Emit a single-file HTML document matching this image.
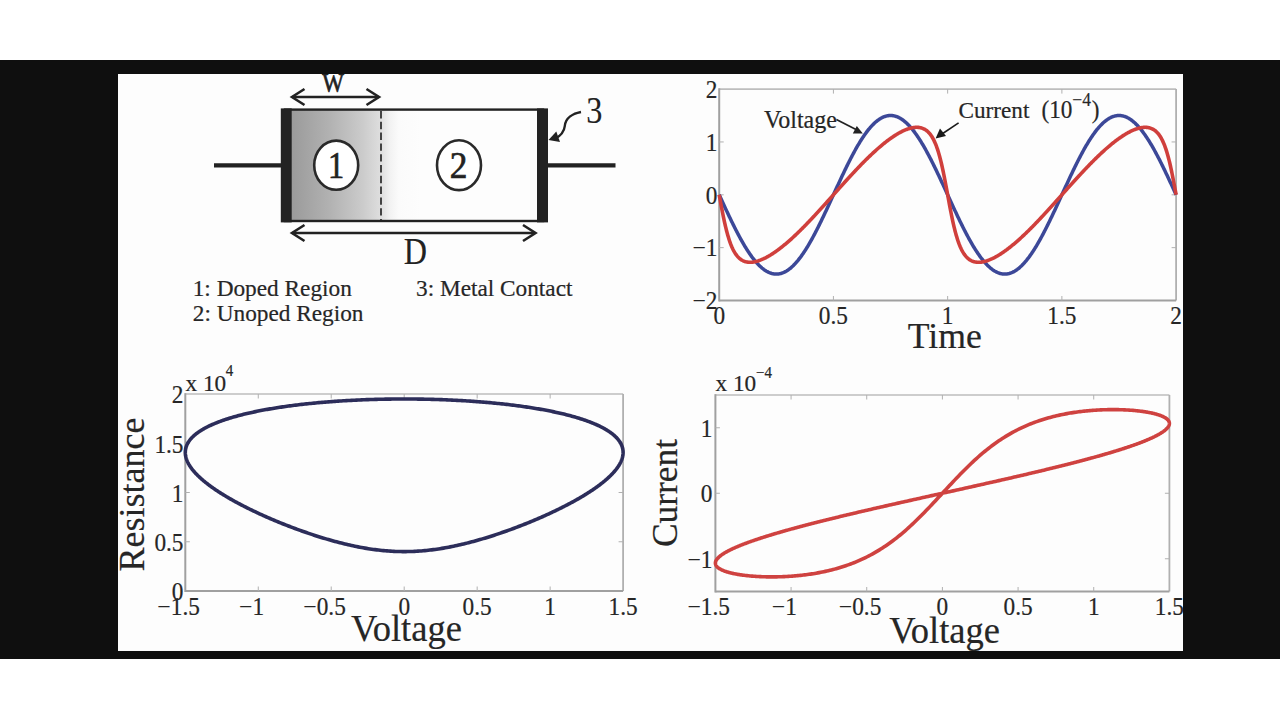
<!DOCTYPE html><html><head><meta charset="utf-8"><style>html,body{margin:0;padding:0;width:1280px;height:720px;overflow:hidden;background:#fff} text{stroke:#262626;stroke-width:0.2px}</style></head><body><svg width="1280" height="720" viewBox="0 0 1280 720" style="position:absolute;left:0;top:0">
<g font-family="'Liberation Serif', serif">
<rect x="0" y="0" width="1280" height="720" fill="#ffffff"/>
<rect x="0" y="60" width="1280" height="599" fill="#0f0f0f"/>
<rect x="118" y="74" width="1065" height="577" fill="#fdfdfd"/>
<defs><linearGradient id="dg" x1="0" x2="1" y1="0" y2="0"><stop offset="0" stop-color="#9a9a9a"/><stop offset="0.3" stop-color="#b2b2b2"/><stop offset="0.55" stop-color="#cbcbcb"/><stop offset="0.69" stop-color="#dedede"/><stop offset="0.76" stop-color="#f2f2f2"/><stop offset="0.83" stop-color="#fbfbfb"/><stop offset="1" stop-color="#fdfdfd"/></linearGradient><clipPath id="pc"><rect x="118" y="74" width="1065" height="577"/></clipPath></defs>
<g clip-path="url(#pc)">
<rect x="291" y="110" width="130" height="111" fill="url(#dg)"/>
<rect x="285" y="109.6" width="258" height="111.4" fill="none" stroke="#222222" stroke-width="2.4"/>
<rect x="280.8" y="108.4" width="10.9" height="114" fill="#222222"/>
<rect x="537" y="108.4" width="11" height="114" fill="#222222"/>
<line x1="214" y1="165.4" x2="281" y2="165.4" stroke="#222222" stroke-width="4.2"/>
<line x1="548" y1="165.3" x2="615.5" y2="165.3" stroke="#222222" stroke-width="4.2"/>
<line x1="381" y1="111" x2="381" y2="220" stroke="#333" stroke-width="1.8" stroke-dasharray="7.4,3.4"/>
<ellipse cx="336.2" cy="165.2" rx="22" ry="24.6" fill="#fff" stroke="#2a2a2a" stroke-width="2.6"/>
<ellipse cx="459.0" cy="165.2" rx="22" ry="24.9" fill="#fff" stroke="#2a2a2a" stroke-width="2.6"/>
<g transform="translate(336.00,177.50) scale(0.85,1)"><text x="0" y="0" font-size="38" text-anchor="middle" fill="#222222" style="stroke:#222222;stroke-width:0.7px">1</text></g>
<g transform="translate(458.60,177.80) scale(0.93,1)"><text x="0" y="0" font-size="38" text-anchor="middle" fill="#222222" style="stroke:#222222;stroke-width:0.7px">2</text></g>
<line x1="292.5" y1="97" x2="378.5" y2="97" stroke="#222222" stroke-width="2.5"/>
<polyline points="304.5,89 292.0,97 304.5,105" fill="none" stroke="#222222" stroke-width="2.6"/>
<polyline points="366.5,89 379.0,97 366.5,105" fill="none" stroke="#222222" stroke-width="2.6"/>
<line x1="292.5" y1="233" x2="535" y2="233" stroke="#222222" stroke-width="2.5"/>
<polyline points="304.5,225 292.0,233 304.5,241" fill="none" stroke="#222222" stroke-width="2.6"/>
<polyline points="523,225 535.5,233 523,241" fill="none" stroke="#222222" stroke-width="2.6"/>
<g transform="translate(333.00,91.50) scale(0.85,1)"><text x="0" y="0" font-size="27" text-anchor="middle" fill="#222222" style="stroke:#222222;stroke-width:0.7px">W</text></g>
<g transform="translate(415.30,264.00) scale(0.87,1)"><text x="0" y="0" font-size="37" text-anchor="middle" fill="#222222" style="stroke:#222222;stroke-width:0.15px">D</text></g>
<g transform="translate(594.20,122.80) scale(0.85,1)"><text x="0" y="0" font-size="38" text-anchor="middle" fill="#222222" style="stroke:#222222;stroke-width:0.1px">3</text></g>
<path d="M581,112 C573,113.5 565.5,118 564.8,126 C564.3,131 561,135.5 555,139" fill="none" stroke="#222222" stroke-width="2.4"/>
<polygon points="548.5,140 556.3,131.5 560,142" fill="#222222"/>
<g transform="translate(192.70,295.50) scale(1,1.02)"><text x="0" y="0" font-size="23.3" text-anchor="start" fill="#262626" >1: Doped Region</text></g>
<g transform="translate(192.80,321.20) scale(1,1.02)"><text x="0" y="0" font-size="23.3" text-anchor="start" fill="#262626" >2: Unoped Region</text></g>
<g transform="translate(416.00,295.50) scale(1,1.02)"><text x="0" y="0" font-size="23.3" text-anchor="start" fill="#262626" >3: Metal Contact</text></g>
<line x1="719.2" y1="89.1" x2="1176.1" y2="89.1" stroke="#bdbdbd" stroke-width="1.7"/>
<line x1="1176.1" y1="89.1" x2="1176.1" y2="300.5" stroke="#b0b0b0" stroke-width="1.8"/>
<line x1="719.2" y1="300.5" x2="1176.1" y2="300.5" stroke="#a0a0a0" stroke-width="2"/>
<line x1="719.2" y1="88.25" x2="719.2" y2="301.5" stroke="#a0a0a0" stroke-width="2"/>
<line x1="833.42" y1="300.5" x2="833.42" y2="296.0" stroke="#b0b0b0" stroke-width="1"/>
<line x1="833.42" y1="89.1" x2="833.42" y2="93.6" stroke="#b0b0b0" stroke-width="1"/>
<line x1="947.65" y1="300.5" x2="947.65" y2="296.0" stroke="#b0b0b0" stroke-width="1"/>
<line x1="947.65" y1="89.1" x2="947.65" y2="93.6" stroke="#b0b0b0" stroke-width="1"/>
<line x1="1061.88" y1="300.5" x2="1061.88" y2="296.0" stroke="#b0b0b0" stroke-width="1"/>
<line x1="1061.88" y1="89.1" x2="1061.88" y2="93.6" stroke="#b0b0b0" stroke-width="1"/>
<line x1="719.2" y1="247.65" x2="723.7" y2="247.65" stroke="#b0b0b0" stroke-width="1"/>
<line x1="1176.1" y1="247.65" x2="1171.6" y2="247.65" stroke="#b0b0b0" stroke-width="1"/>
<line x1="719.2" y1="194.80" x2="723.7" y2="194.80" stroke="#b0b0b0" stroke-width="1"/>
<line x1="1176.1" y1="194.80" x2="1171.6" y2="194.80" stroke="#b0b0b0" stroke-width="1"/>
<line x1="719.2" y1="141.95" x2="723.7" y2="141.95" stroke="#b0b0b0" stroke-width="1"/>
<line x1="1176.1" y1="141.95" x2="1171.6" y2="141.95" stroke="#b0b0b0" stroke-width="1"/>
<path d="M719.20,194.80 L719.77,196.05 L720.34,197.29 L720.91,198.53 L721.48,199.78 L722.06,201.02 L722.63,202.26 L723.20,203.50 L723.77,204.74 L724.34,205.97 L724.91,207.20 L725.48,208.43 L726.05,209.65 L726.62,210.88 L727.20,212.09 L727.77,213.31 L728.34,214.51 L728.91,215.72 L729.48,216.92 L730.05,218.11 L730.62,219.30 L731.19,220.48 L731.76,221.65 L732.34,222.82 L732.91,223.98 L733.48,225.14 L734.05,226.28 L734.62,227.42 L735.19,228.55 L735.76,229.68 L736.33,230.79 L736.90,231.90 L737.48,232.99 L738.05,234.08 L738.62,235.15 L739.19,236.22 L739.76,237.28 L740.33,238.32 L740.90,239.36 L741.47,240.38 L742.05,241.40 L742.62,242.40 L743.19,243.39 L743.76,244.37 L744.33,245.33 L744.90,246.28 L745.47,247.23 L746.04,248.15 L746.61,249.07 L747.19,249.97 L747.76,250.86 L748.33,251.73 L748.90,252.59 L749.47,253.43 L750.04,254.27 L750.61,255.08 L751.18,255.88 L751.75,256.67 L752.33,257.44 L752.90,258.20 L753.47,258.93 L754.04,259.66 L754.61,260.37 L755.18,261.06 L755.75,261.73 L756.32,262.39 L756.89,263.04 L757.47,263.66 L758.04,264.27 L758.61,264.86 L759.18,265.43 L759.75,265.99 L760.32,266.53 L760.89,267.05 L761.46,267.55 L762.03,268.04 L762.61,268.51 L763.18,268.96 L763.75,269.39 L764.32,269.80 L764.89,270.20 L765.46,270.57 L766.03,270.93 L766.60,271.27 L767.17,271.58 L767.75,271.88 L768.32,272.17 L768.89,272.43 L769.46,272.67 L770.03,272.89 L770.60,273.10 L771.17,273.28 L771.74,273.45 L772.31,273.60 L772.89,273.72 L773.46,273.83 L774.03,273.92 L774.60,273.99 L775.17,274.04 L775.74,274.07 L776.31,274.07 L776.88,274.07 L777.45,274.04 L778.03,273.99 L778.60,273.92 L779.17,273.83 L779.74,273.72 L780.31,273.60 L780.88,273.45 L781.45,273.28 L782.02,273.10 L782.59,272.89 L783.17,272.67 L783.74,272.43 L784.31,272.17 L784.88,271.88 L785.45,271.58 L786.02,271.27 L786.59,270.93 L787.16,270.57 L787.74,270.20 L788.31,269.80 L788.88,269.39 L789.45,268.96 L790.02,268.51 L790.59,268.04 L791.16,267.55 L791.73,267.05 L792.30,266.53 L792.88,265.99 L793.45,265.43 L794.02,264.86 L794.59,264.27 L795.16,263.66 L795.73,263.04 L796.30,262.39 L796.87,261.73 L797.44,261.06 L798.02,260.37 L798.59,259.66 L799.16,258.93 L799.73,258.20 L800.30,257.44 L800.87,256.67 L801.44,255.88 L802.01,255.08 L802.58,254.27 L803.16,253.43 L803.73,252.59 L804.30,251.73 L804.87,250.86 L805.44,249.97 L806.01,249.07 L806.58,248.15 L807.15,247.23 L807.72,246.28 L808.30,245.33 L808.87,244.37 L809.44,243.39 L810.01,242.40 L810.58,241.40 L811.15,240.38 L811.72,239.36 L812.29,238.32 L812.86,237.28 L813.44,236.22 L814.01,235.15 L814.58,234.08 L815.15,232.99 L815.72,231.90 L816.29,230.79 L816.86,229.68 L817.43,228.55 L818.00,227.42 L818.58,226.28 L819.15,225.14 L819.72,223.98 L820.29,222.82 L820.86,221.65 L821.43,220.48 L822.00,219.30 L822.57,218.11 L823.14,216.92 L823.72,215.72 L824.29,214.51 L824.86,213.31 L825.43,212.09 L826.00,210.88 L826.57,209.65 L827.14,208.43 L827.71,207.20 L828.28,205.97 L828.86,204.74 L829.43,203.50 L830.00,202.26 L830.57,201.02 L831.14,199.78 L831.71,198.53 L832.28,197.29 L832.85,196.05 L833.42,194.80 L834.00,193.55 L834.57,192.31 L835.14,191.07 L835.71,189.82 L836.28,188.58 L836.85,187.34 L837.42,186.10 L837.99,184.86 L838.57,183.63 L839.14,182.40 L839.71,181.17 L840.28,179.95 L840.85,178.72 L841.42,177.51 L841.99,176.29 L842.56,175.09 L843.13,173.88 L843.71,172.68 L844.28,171.49 L844.85,170.30 L845.42,169.12 L845.99,167.95 L846.56,166.78 L847.13,165.62 L847.70,164.46 L848.27,163.32 L848.85,162.18 L849.42,161.05 L849.99,159.92 L850.56,158.81 L851.13,157.70 L851.70,156.61 L852.27,155.52 L852.84,154.45 L853.41,153.38 L853.99,152.32 L854.56,151.28 L855.13,150.24 L855.70,149.22 L856.27,148.20 L856.84,147.20 L857.41,146.21 L857.98,145.23 L858.55,144.27 L859.13,143.32 L859.70,142.37 L860.27,141.45 L860.84,140.53 L861.41,139.63 L861.98,138.74 L862.55,137.87 L863.12,137.01 L863.69,136.17 L864.27,135.33 L864.84,134.52 L865.41,133.72 L865.98,132.93 L866.55,132.16 L867.12,131.40 L867.69,130.67 L868.26,129.94 L868.83,129.23 L869.41,128.54 L869.98,127.87 L870.55,127.21 L871.12,126.56 L871.69,125.94 L872.26,125.33 L872.83,124.74 L873.40,124.17 L873.97,123.61 L874.55,123.07 L875.12,122.55 L875.69,122.05 L876.26,121.56 L876.83,121.09 L877.40,120.64 L877.97,120.21 L878.54,119.80 L879.12,119.40 L879.69,119.03 L880.26,118.67 L880.83,118.33 L881.40,118.02 L881.97,117.72 L882.54,117.43 L883.11,117.17 L883.68,116.93 L884.26,116.71 L884.83,116.50 L885.40,116.32 L885.97,116.15 L886.54,116.00 L887.11,115.88 L887.68,115.77 L888.25,115.68 L888.82,115.61 L889.40,115.56 L889.97,115.53 L890.54,115.53 L891.11,115.53 L891.68,115.56 L892.25,115.61 L892.82,115.68 L893.39,115.77 L893.96,115.88 L894.54,116.00 L895.11,116.15 L895.68,116.32 L896.25,116.50 L896.82,116.71 L897.39,116.93 L897.96,117.17 L898.53,117.43 L899.10,117.72 L899.68,118.02 L900.25,118.33 L900.82,118.67 L901.39,119.03 L901.96,119.40 L902.53,119.80 L903.10,120.21 L903.67,120.64 L904.24,121.09 L904.82,121.56 L905.39,122.05 L905.96,122.55 L906.53,123.07 L907.10,123.61 L907.67,124.17 L908.24,124.74 L908.81,125.33 L909.38,125.94 L909.96,126.56 L910.53,127.21 L911.10,127.87 L911.67,128.54 L912.24,129.23 L912.81,129.94 L913.38,130.67 L913.95,131.40 L914.52,132.16 L915.10,132.93 L915.67,133.72 L916.24,134.52 L916.81,135.33 L917.38,136.17 L917.95,137.01 L918.52,137.87 L919.09,138.74 L919.66,139.63 L920.24,140.53 L920.81,141.45 L921.38,142.37 L921.95,143.32 L922.52,144.27 L923.09,145.23 L923.66,146.21 L924.23,147.20 L924.80,148.20 L925.38,149.22 L925.95,150.24 L926.52,151.28 L927.09,152.32 L927.66,153.38 L928.23,154.45 L928.80,155.52 L929.37,156.61 L929.95,157.70 L930.52,158.81 L931.09,159.92 L931.66,161.05 L932.23,162.18 L932.80,163.32 L933.37,164.46 L933.94,165.62 L934.51,166.78 L935.09,167.95 L935.66,169.12 L936.23,170.30 L936.80,171.49 L937.37,172.68 L937.94,173.88 L938.51,175.09 L939.08,176.29 L939.65,177.51 L940.23,178.72 L940.80,179.95 L941.37,181.17 L941.94,182.40 L942.51,183.63 L943.08,184.86 L943.65,186.10 L944.22,187.34 L944.79,188.58 L945.37,189.82 L945.94,191.07 L946.51,192.31 L947.08,193.55 L947.65,194.80 L948.22,196.05 L948.79,197.29 L949.36,198.53 L949.93,199.78 L950.51,201.02 L951.08,202.26 L951.65,203.50 L952.22,204.74 L952.79,205.97 L953.36,207.20 L953.93,208.43 L954.50,209.65 L955.07,210.88 L955.65,212.09 L956.22,213.31 L956.79,214.51 L957.36,215.72 L957.93,216.92 L958.50,218.11 L959.07,219.30 L959.64,220.48 L960.21,221.65 L960.79,222.82 L961.36,223.98 L961.93,225.14 L962.50,226.28 L963.07,227.42 L963.64,228.55 L964.21,229.68 L964.78,230.79 L965.35,231.90 L965.93,232.99 L966.50,234.08 L967.07,235.15 L967.64,236.22 L968.21,237.28 L968.78,238.32 L969.35,239.36 L969.92,240.38 L970.50,241.40 L971.07,242.40 L971.64,243.39 L972.21,244.37 L972.78,245.33 L973.35,246.28 L973.92,247.23 L974.49,248.15 L975.06,249.07 L975.64,249.97 L976.21,250.86 L976.78,251.73 L977.35,252.59 L977.92,253.43 L978.49,254.27 L979.06,255.08 L979.63,255.88 L980.20,256.67 L980.78,257.44 L981.35,258.20 L981.92,258.93 L982.49,259.66 L983.06,260.37 L983.63,261.06 L984.20,261.73 L984.77,262.39 L985.34,263.04 L985.92,263.66 L986.49,264.27 L987.06,264.86 L987.63,265.43 L988.20,265.99 L988.77,266.53 L989.34,267.05 L989.91,267.55 L990.48,268.04 L991.06,268.51 L991.63,268.96 L992.20,269.39 L992.77,269.80 L993.34,270.20 L993.91,270.57 L994.48,270.93 L995.05,271.27 L995.62,271.58 L996.20,271.88 L996.77,272.17 L997.34,272.43 L997.91,272.67 L998.48,272.89 L999.05,273.10 L999.62,273.28 L1000.19,273.45 L1000.76,273.60 L1001.34,273.72 L1001.91,273.83 L1002.48,273.92 L1003.05,273.99 L1003.62,274.04 L1004.19,274.07 L1004.76,274.07 L1005.33,274.07 L1005.90,274.04 L1006.48,273.99 L1007.05,273.92 L1007.62,273.83 L1008.19,273.72 L1008.76,273.60 L1009.33,273.45 L1009.90,273.28 L1010.47,273.10 L1011.04,272.89 L1011.62,272.67 L1012.19,272.43 L1012.76,272.17 L1013.33,271.88 L1013.90,271.58 L1014.47,271.27 L1015.04,270.93 L1015.61,270.57 L1016.18,270.20 L1016.76,269.80 L1017.33,269.39 L1017.90,268.96 L1018.47,268.51 L1019.04,268.04 L1019.61,267.55 L1020.18,267.05 L1020.75,266.53 L1021.33,265.99 L1021.90,265.43 L1022.47,264.86 L1023.04,264.27 L1023.61,263.66 L1024.18,263.04 L1024.75,262.39 L1025.32,261.73 L1025.89,261.06 L1026.47,260.37 L1027.04,259.66 L1027.61,258.93 L1028.18,258.20 L1028.75,257.44 L1029.32,256.67 L1029.89,255.88 L1030.46,255.08 L1031.03,254.27 L1031.61,253.43 L1032.18,252.59 L1032.75,251.73 L1033.32,250.86 L1033.89,249.97 L1034.46,249.07 L1035.03,248.15 L1035.60,247.23 L1036.17,246.28 L1036.75,245.33 L1037.32,244.37 L1037.89,243.39 L1038.46,242.40 L1039.03,241.40 L1039.60,240.38 L1040.17,239.36 L1040.74,238.32 L1041.31,237.28 L1041.89,236.22 L1042.46,235.15 L1043.03,234.08 L1043.60,232.99 L1044.17,231.90 L1044.74,230.79 L1045.31,229.68 L1045.88,228.55 L1046.45,227.42 L1047.03,226.28 L1047.60,225.14 L1048.17,223.98 L1048.74,222.82 L1049.31,221.65 L1049.88,220.48 L1050.45,219.30 L1051.02,218.11 L1051.59,216.92 L1052.17,215.72 L1052.74,214.51 L1053.31,213.31 L1053.88,212.09 L1054.45,210.88 L1055.02,209.65 L1055.59,208.43 L1056.16,207.20 L1056.73,205.97 L1057.31,204.74 L1057.88,203.50 L1058.45,202.26 L1059.02,201.02 L1059.59,199.78 L1060.16,198.53 L1060.73,197.29 L1061.30,196.05 L1061.88,194.80 L1062.45,193.55 L1063.02,192.31 L1063.59,191.07 L1064.16,189.82 L1064.73,188.58 L1065.30,187.34 L1065.87,186.10 L1066.44,184.86 L1067.02,183.63 L1067.59,182.40 L1068.16,181.17 L1068.73,179.95 L1069.30,178.72 L1069.87,177.51 L1070.44,176.29 L1071.01,175.09 L1071.58,173.88 L1072.16,172.68 L1072.73,171.49 L1073.30,170.30 L1073.87,169.12 L1074.44,167.95 L1075.01,166.78 L1075.58,165.62 L1076.15,164.46 L1076.72,163.32 L1077.30,162.18 L1077.87,161.05 L1078.44,159.92 L1079.01,158.81 L1079.58,157.70 L1080.15,156.61 L1080.72,155.52 L1081.29,154.45 L1081.86,153.38 L1082.44,152.32 L1083.01,151.28 L1083.58,150.24 L1084.15,149.22 L1084.72,148.20 L1085.29,147.20 L1085.86,146.21 L1086.43,145.23 L1087.00,144.27 L1087.58,143.32 L1088.15,142.37 L1088.72,141.45 L1089.29,140.53 L1089.86,139.63 L1090.43,138.74 L1091.00,137.87 L1091.57,137.01 L1092.14,136.17 L1092.72,135.33 L1093.29,134.52 L1093.86,133.72 L1094.43,132.93 L1095.00,132.16 L1095.57,131.40 L1096.14,130.67 L1096.71,129.94 L1097.28,129.23 L1097.86,128.54 L1098.43,127.87 L1099.00,127.21 L1099.57,126.56 L1100.14,125.94 L1100.71,125.33 L1101.28,124.74 L1101.85,124.17 L1102.42,123.61 L1103.00,123.07 L1103.57,122.55 L1104.14,122.05 L1104.71,121.56 L1105.28,121.09 L1105.85,120.64 L1106.42,120.21 L1106.99,119.80 L1107.57,119.40 L1108.14,119.03 L1108.71,118.67 L1109.28,118.33 L1109.85,118.02 L1110.42,117.72 L1110.99,117.43 L1111.56,117.17 L1112.13,116.93 L1112.71,116.71 L1113.28,116.50 L1113.85,116.32 L1114.42,116.15 L1114.99,116.00 L1115.56,115.88 L1116.13,115.77 L1116.70,115.68 L1117.27,115.61 L1117.85,115.56 L1118.42,115.53 L1118.99,115.53 L1119.56,115.53 L1120.13,115.56 L1120.70,115.61 L1121.27,115.68 L1121.84,115.77 L1122.41,115.88 L1122.99,116.00 L1123.56,116.15 L1124.13,116.32 L1124.70,116.50 L1125.27,116.71 L1125.84,116.93 L1126.41,117.17 L1126.98,117.43 L1127.55,117.72 L1128.13,118.02 L1128.70,118.33 L1129.27,118.67 L1129.84,119.03 L1130.41,119.40 L1130.98,119.80 L1131.55,120.21 L1132.12,120.64 L1132.69,121.09 L1133.27,121.56 L1133.84,122.05 L1134.41,122.55 L1134.98,123.07 L1135.55,123.61 L1136.12,124.17 L1136.69,124.74 L1137.26,125.33 L1137.83,125.94 L1138.41,126.56 L1138.98,127.21 L1139.55,127.87 L1140.12,128.54 L1140.69,129.23 L1141.26,129.94 L1141.83,130.67 L1142.40,131.40 L1142.97,132.16 L1143.55,132.93 L1144.12,133.72 L1144.69,134.52 L1145.26,135.33 L1145.83,136.17 L1146.40,137.01 L1146.97,137.87 L1147.54,138.74 L1148.11,139.63 L1148.69,140.53 L1149.26,141.45 L1149.83,142.37 L1150.40,143.32 L1150.97,144.27 L1151.54,145.23 L1152.11,146.21 L1152.68,147.20 L1153.25,148.20 L1153.83,149.22 L1154.40,150.24 L1154.97,151.28 L1155.54,152.32 L1156.11,153.38 L1156.68,154.45 L1157.25,155.52 L1157.82,156.61 L1158.40,157.70 L1158.97,158.81 L1159.54,159.92 L1160.11,161.05 L1160.68,162.18 L1161.25,163.32 L1161.82,164.46 L1162.39,165.62 L1162.96,166.78 L1163.54,167.95 L1164.11,169.12 L1164.68,170.30 L1165.25,171.49 L1165.82,172.68 L1166.39,173.88 L1166.96,175.09 L1167.53,176.29 L1168.10,177.51 L1168.68,178.72 L1169.25,179.95 L1169.82,181.17 L1170.39,182.40 L1170.96,183.63 L1171.53,184.86 L1172.10,186.10 L1172.67,187.34 L1173.24,188.58 L1173.82,189.82 L1174.39,191.07 L1174.96,192.31 L1175.53,193.55 L1176.10,194.80" fill="none" stroke="#3c4898" stroke-width="3.5"/>
<path d="M719.20,194.80 L719.77,197.91 L720.34,201.01 L720.91,204.08 L721.48,207.11 L722.06,210.08 L722.63,213.00 L723.20,215.84 L723.77,218.60 L724.34,221.26 L724.91,223.84 L725.48,226.31 L726.05,228.68 L726.62,230.94 L727.20,233.10 L727.77,235.16 L728.34,237.10 L728.91,238.95 L729.48,240.69 L730.05,242.34 L730.62,243.89 L731.19,245.34 L731.76,246.71 L732.34,247.99 L732.91,249.20 L733.48,250.32 L734.05,251.38 L734.62,252.36 L735.19,253.27 L735.76,254.13 L736.33,254.92 L736.90,255.66 L737.48,256.34 L738.05,256.97 L738.62,257.56 L739.19,258.10 L739.76,258.60 L740.33,259.05 L740.90,259.47 L741.47,259.86 L742.05,260.20 L742.62,260.52 L743.19,260.80 L743.76,261.06 L744.33,261.29 L744.90,261.49 L745.47,261.66 L746.04,261.81 L746.61,261.94 L747.19,262.05 L747.76,262.13 L748.33,262.20 L748.90,262.25 L749.47,262.28 L750.04,262.29 L750.61,262.28 L751.18,262.26 L751.75,262.22 L752.33,262.17 L752.90,262.10 L753.47,262.02 L754.04,261.93 L754.61,261.82 L755.18,261.70 L755.75,261.57 L756.32,261.43 L756.89,261.28 L757.47,261.11 L758.04,260.94 L758.61,260.76 L759.18,260.56 L759.75,260.36 L760.32,260.14 L760.89,259.92 L761.46,259.69 L762.03,259.45 L762.61,259.20 L763.18,258.94 L763.75,258.68 L764.32,258.40 L764.89,258.12 L765.46,257.84 L766.03,257.54 L766.60,257.24 L767.17,256.93 L767.75,256.61 L768.32,256.29 L768.89,255.96 L769.46,255.63 L770.03,255.28 L770.60,254.94 L771.17,254.58 L771.74,254.22 L772.31,253.86 L772.89,253.48 L773.46,253.11 L774.03,252.72 L774.60,252.34 L775.17,251.94 L775.74,251.54 L776.31,251.14 L776.88,250.73 L777.45,250.31 L778.03,249.90 L778.60,249.47 L779.17,249.04 L779.74,248.61 L780.31,248.17 L780.88,247.73 L781.45,247.28 L782.02,246.83 L782.59,246.37 L783.17,245.91 L783.74,245.45 L784.31,244.98 L784.88,244.51 L785.45,244.03 L786.02,243.55 L786.59,243.07 L787.16,242.58 L787.74,242.08 L788.31,241.59 L788.88,241.09 L789.45,240.59 L790.02,240.08 L790.59,239.57 L791.16,239.05 L791.73,238.54 L792.30,238.02 L792.88,237.49 L793.45,236.97 L794.02,236.43 L794.59,235.90 L795.16,235.36 L795.73,234.82 L796.30,234.28 L796.87,233.74 L797.44,233.19 L798.02,232.64 L798.59,232.08 L799.16,231.52 L799.73,230.97 L800.30,230.40 L800.87,229.84 L801.44,229.27 L802.01,228.70 L802.58,228.13 L803.16,227.55 L803.73,226.98 L804.30,226.40 L804.87,225.81 L805.44,225.23 L806.01,224.64 L806.58,224.05 L807.15,223.46 L807.72,222.87 L808.30,222.28 L808.87,221.68 L809.44,221.08 L810.01,220.48 L810.58,219.88 L811.15,219.27 L811.72,218.67 L812.29,218.06 L812.86,217.45 L813.44,216.84 L814.01,216.23 L814.58,215.61 L815.15,215.00 L815.72,214.38 L816.29,213.76 L816.86,213.14 L817.43,212.52 L818.00,211.90 L818.58,211.28 L819.15,210.65 L819.72,210.03 L820.29,209.40 L820.86,208.77 L821.43,208.15 L822.00,207.52 L822.57,206.89 L823.14,206.26 L823.72,205.62 L824.29,204.99 L824.86,204.36 L825.43,203.72 L826.00,203.09 L826.57,202.45 L827.14,201.82 L827.71,201.18 L828.28,200.54 L828.86,199.91 L829.43,199.27 L830.00,198.63 L830.57,197.99 L831.14,197.35 L831.71,196.72 L832.28,196.08 L832.85,195.44 L833.42,194.80 L834.00,194.16 L834.57,193.52 L835.14,192.88 L835.71,192.25 L836.28,191.61 L836.85,190.97 L837.42,190.33 L837.99,189.69 L838.57,189.06 L839.14,188.42 L839.71,187.78 L840.28,187.15 L840.85,186.51 L841.42,185.88 L841.99,185.24 L842.56,184.61 L843.13,183.98 L843.71,183.34 L844.28,182.71 L844.85,182.08 L845.42,181.45 L845.99,180.83 L846.56,180.20 L847.13,179.57 L847.70,178.95 L848.27,178.32 L848.85,177.70 L849.42,177.08 L849.99,176.46 L850.56,175.84 L851.13,175.22 L851.70,174.60 L852.27,173.99 L852.84,173.37 L853.41,172.76 L853.99,172.15 L854.56,171.54 L855.13,170.93 L855.70,170.33 L856.27,169.72 L856.84,169.12 L857.41,168.52 L857.98,167.92 L858.55,167.32 L859.13,166.73 L859.70,166.14 L860.27,165.55 L860.84,164.96 L861.41,164.37 L861.98,163.79 L862.55,163.20 L863.12,162.62 L863.69,162.05 L864.27,161.47 L864.84,160.90 L865.41,160.33 L865.98,159.76 L866.55,159.20 L867.12,158.63 L867.69,158.08 L868.26,157.52 L868.83,156.96 L869.41,156.41 L869.98,155.86 L870.55,155.32 L871.12,154.78 L871.69,154.24 L872.26,153.70 L872.83,153.17 L873.40,152.63 L873.97,152.11 L874.55,151.58 L875.12,151.06 L875.69,150.55 L876.26,150.03 L876.83,149.52 L877.40,149.01 L877.97,148.51 L878.54,148.01 L879.12,147.52 L879.69,147.02 L880.26,146.53 L880.83,146.05 L881.40,145.57 L881.97,145.09 L882.54,144.62 L883.11,144.15 L883.68,143.69 L884.26,143.23 L884.83,142.77 L885.40,142.32 L885.97,141.87 L886.54,141.43 L887.11,140.99 L887.68,140.56 L888.25,140.13 L888.82,139.70 L889.40,139.29 L889.97,138.87 L890.54,138.46 L891.11,138.06 L891.68,137.66 L892.25,137.26 L892.82,136.88 L893.39,136.49 L893.96,136.12 L894.54,135.74 L895.11,135.38 L895.68,135.02 L896.25,134.66 L896.82,134.32 L897.39,133.97 L897.96,133.64 L898.53,133.31 L899.10,132.99 L899.68,132.67 L900.25,132.36 L900.82,132.06 L901.39,131.76 L901.96,131.48 L902.53,131.20 L903.10,130.92 L903.67,130.66 L904.24,130.40 L904.82,130.15 L905.39,129.91 L905.96,129.68 L906.53,129.46 L907.10,129.24 L907.67,129.04 L908.24,128.84 L908.81,128.66 L909.38,128.49 L909.96,128.32 L910.53,128.17 L911.10,128.03 L911.67,127.90 L912.24,127.78 L912.81,127.67 L913.38,127.58 L913.95,127.50 L914.52,127.43 L915.10,127.38 L915.67,127.34 L916.24,127.32 L916.81,127.31 L917.38,127.32 L917.95,127.35 L918.52,127.40 L919.09,127.47 L919.66,127.55 L920.24,127.66 L920.81,127.79 L921.38,127.94 L921.95,128.11 L922.52,128.31 L923.09,128.54 L923.66,128.80 L924.23,129.08 L924.80,129.40 L925.38,129.74 L925.95,130.13 L926.52,130.55 L927.09,131.00 L927.66,131.50 L928.23,132.04 L928.80,132.63 L929.37,133.26 L929.95,133.94 L930.52,134.68 L931.09,135.47 L931.66,136.33 L932.23,137.24 L932.80,138.22 L933.37,139.28 L933.94,140.40 L934.51,141.61 L935.09,142.89 L935.66,144.26 L936.23,145.71 L936.80,147.26 L937.37,148.91 L937.94,150.65 L938.51,152.50 L939.08,154.44 L939.65,156.50 L940.23,158.66 L940.80,160.92 L941.37,163.29 L941.94,165.76 L942.51,168.34 L943.08,171.00 L943.65,173.76 L944.22,176.60 L944.79,179.52 L945.37,182.49 L945.94,185.52 L946.51,188.59 L947.08,191.69 L947.65,194.80 L948.22,197.91 L948.79,201.01 L949.36,204.08 L949.93,207.11 L950.51,210.08 L951.08,213.00 L951.65,215.84 L952.22,218.60 L952.79,221.26 L953.36,223.84 L953.93,226.31 L954.50,228.68 L955.07,230.94 L955.65,233.10 L956.22,235.16 L956.79,237.10 L957.36,238.95 L957.93,240.69 L958.50,242.34 L959.07,243.89 L959.64,245.34 L960.21,246.71 L960.79,247.99 L961.36,249.20 L961.93,250.32 L962.50,251.38 L963.07,252.36 L963.64,253.27 L964.21,254.13 L964.78,254.92 L965.35,255.66 L965.93,256.34 L966.50,256.97 L967.07,257.56 L967.64,258.10 L968.21,258.60 L968.78,259.05 L969.35,259.47 L969.92,259.86 L970.50,260.20 L971.07,260.52 L971.64,260.80 L972.21,261.06 L972.78,261.29 L973.35,261.49 L973.92,261.66 L974.49,261.81 L975.06,261.94 L975.64,262.05 L976.21,262.13 L976.78,262.20 L977.35,262.25 L977.92,262.28 L978.49,262.29 L979.06,262.28 L979.63,262.26 L980.20,262.22 L980.78,262.17 L981.35,262.10 L981.92,262.02 L982.49,261.93 L983.06,261.82 L983.63,261.70 L984.20,261.57 L984.77,261.43 L985.34,261.28 L985.92,261.11 L986.49,260.94 L987.06,260.76 L987.63,260.56 L988.20,260.36 L988.77,260.14 L989.34,259.92 L989.91,259.69 L990.48,259.45 L991.06,259.20 L991.63,258.94 L992.20,258.68 L992.77,258.40 L993.34,258.12 L993.91,257.84 L994.48,257.54 L995.05,257.24 L995.62,256.93 L996.20,256.61 L996.77,256.29 L997.34,255.96 L997.91,255.63 L998.48,255.28 L999.05,254.94 L999.62,254.58 L1000.19,254.22 L1000.76,253.86 L1001.34,253.48 L1001.91,253.11 L1002.48,252.72 L1003.05,252.34 L1003.62,251.94 L1004.19,251.54 L1004.76,251.14 L1005.33,250.73 L1005.90,250.31 L1006.48,249.90 L1007.05,249.47 L1007.62,249.04 L1008.19,248.61 L1008.76,248.17 L1009.33,247.73 L1009.90,247.28 L1010.47,246.83 L1011.04,246.37 L1011.62,245.91 L1012.19,245.45 L1012.76,244.98 L1013.33,244.51 L1013.90,244.03 L1014.47,243.55 L1015.04,243.07 L1015.61,242.58 L1016.18,242.08 L1016.76,241.59 L1017.33,241.09 L1017.90,240.59 L1018.47,240.08 L1019.04,239.57 L1019.61,239.05 L1020.18,238.54 L1020.75,238.02 L1021.33,237.49 L1021.90,236.97 L1022.47,236.43 L1023.04,235.90 L1023.61,235.36 L1024.18,234.82 L1024.75,234.28 L1025.32,233.74 L1025.89,233.19 L1026.47,232.64 L1027.04,232.08 L1027.61,231.52 L1028.18,230.97 L1028.75,230.40 L1029.32,229.84 L1029.89,229.27 L1030.46,228.70 L1031.03,228.13 L1031.61,227.55 L1032.18,226.98 L1032.75,226.40 L1033.32,225.81 L1033.89,225.23 L1034.46,224.64 L1035.03,224.05 L1035.60,223.46 L1036.17,222.87 L1036.75,222.28 L1037.32,221.68 L1037.89,221.08 L1038.46,220.48 L1039.03,219.88 L1039.60,219.27 L1040.17,218.67 L1040.74,218.06 L1041.31,217.45 L1041.89,216.84 L1042.46,216.23 L1043.03,215.61 L1043.60,215.00 L1044.17,214.38 L1044.74,213.76 L1045.31,213.14 L1045.88,212.52 L1046.45,211.90 L1047.03,211.28 L1047.60,210.65 L1048.17,210.03 L1048.74,209.40 L1049.31,208.77 L1049.88,208.15 L1050.45,207.52 L1051.02,206.89 L1051.59,206.26 L1052.17,205.62 L1052.74,204.99 L1053.31,204.36 L1053.88,203.72 L1054.45,203.09 L1055.02,202.45 L1055.59,201.82 L1056.16,201.18 L1056.73,200.54 L1057.31,199.91 L1057.88,199.27 L1058.45,198.63 L1059.02,197.99 L1059.59,197.35 L1060.16,196.72 L1060.73,196.08 L1061.30,195.44 L1061.88,194.80 L1062.45,194.16 L1063.02,193.52 L1063.59,192.88 L1064.16,192.25 L1064.73,191.61 L1065.30,190.97 L1065.87,190.33 L1066.44,189.69 L1067.02,189.06 L1067.59,188.42 L1068.16,187.78 L1068.73,187.15 L1069.30,186.51 L1069.87,185.88 L1070.44,185.24 L1071.01,184.61 L1071.58,183.98 L1072.16,183.34 L1072.73,182.71 L1073.30,182.08 L1073.87,181.45 L1074.44,180.83 L1075.01,180.20 L1075.58,179.57 L1076.15,178.95 L1076.72,178.32 L1077.30,177.70 L1077.87,177.08 L1078.44,176.46 L1079.01,175.84 L1079.58,175.22 L1080.15,174.60 L1080.72,173.99 L1081.29,173.37 L1081.86,172.76 L1082.44,172.15 L1083.01,171.54 L1083.58,170.93 L1084.15,170.33 L1084.72,169.72 L1085.29,169.12 L1085.86,168.52 L1086.43,167.92 L1087.00,167.32 L1087.58,166.73 L1088.15,166.14 L1088.72,165.55 L1089.29,164.96 L1089.86,164.37 L1090.43,163.79 L1091.00,163.20 L1091.57,162.62 L1092.14,162.05 L1092.72,161.47 L1093.29,160.90 L1093.86,160.33 L1094.43,159.76 L1095.00,159.20 L1095.57,158.63 L1096.14,158.08 L1096.71,157.52 L1097.28,156.96 L1097.86,156.41 L1098.43,155.86 L1099.00,155.32 L1099.57,154.78 L1100.14,154.24 L1100.71,153.70 L1101.28,153.17 L1101.85,152.63 L1102.42,152.11 L1103.00,151.58 L1103.57,151.06 L1104.14,150.55 L1104.71,150.03 L1105.28,149.52 L1105.85,149.01 L1106.42,148.51 L1106.99,148.01 L1107.57,147.52 L1108.14,147.02 L1108.71,146.53 L1109.28,146.05 L1109.85,145.57 L1110.42,145.09 L1110.99,144.62 L1111.56,144.15 L1112.13,143.69 L1112.71,143.23 L1113.28,142.77 L1113.85,142.32 L1114.42,141.87 L1114.99,141.43 L1115.56,140.99 L1116.13,140.56 L1116.70,140.13 L1117.27,139.70 L1117.85,139.29 L1118.42,138.87 L1118.99,138.46 L1119.56,138.06 L1120.13,137.66 L1120.70,137.26 L1121.27,136.88 L1121.84,136.49 L1122.41,136.12 L1122.99,135.74 L1123.56,135.38 L1124.13,135.02 L1124.70,134.66 L1125.27,134.32 L1125.84,133.97 L1126.41,133.64 L1126.98,133.31 L1127.55,132.99 L1128.13,132.67 L1128.70,132.36 L1129.27,132.06 L1129.84,131.76 L1130.41,131.48 L1130.98,131.20 L1131.55,130.92 L1132.12,130.66 L1132.69,130.40 L1133.27,130.15 L1133.84,129.91 L1134.41,129.68 L1134.98,129.46 L1135.55,129.24 L1136.12,129.04 L1136.69,128.84 L1137.26,128.66 L1137.83,128.49 L1138.41,128.32 L1138.98,128.17 L1139.55,128.03 L1140.12,127.90 L1140.69,127.78 L1141.26,127.67 L1141.83,127.58 L1142.40,127.50 L1142.97,127.43 L1143.55,127.38 L1144.12,127.34 L1144.69,127.32 L1145.26,127.31 L1145.83,127.32 L1146.40,127.35 L1146.97,127.40 L1147.54,127.47 L1148.11,127.55 L1148.69,127.66 L1149.26,127.79 L1149.83,127.94 L1150.40,128.11 L1150.97,128.31 L1151.54,128.54 L1152.11,128.80 L1152.68,129.08 L1153.25,129.40 L1153.83,129.74 L1154.40,130.13 L1154.97,130.55 L1155.54,131.00 L1156.11,131.50 L1156.68,132.04 L1157.25,132.63 L1157.82,133.26 L1158.40,133.94 L1158.97,134.68 L1159.54,135.47 L1160.11,136.33 L1160.68,137.24 L1161.25,138.22 L1161.82,139.28 L1162.39,140.40 L1162.96,141.61 L1163.54,142.89 L1164.11,144.26 L1164.68,145.71 L1165.25,147.26 L1165.82,148.91 L1166.39,150.65 L1166.96,152.50 L1167.53,154.44 L1168.10,156.50 L1168.68,158.66 L1169.25,160.92 L1169.82,163.29 L1170.39,165.76 L1170.96,168.34 L1171.53,171.00 L1172.10,173.76 L1172.67,176.60 L1173.24,179.52 L1173.82,182.49 L1174.39,185.52 L1174.96,188.59 L1175.53,191.69 L1176.10,194.80" fill="none" stroke="#d03f3c" stroke-width="3.6"/>
<g transform="translate(717.50,97.80) scale(1,1.055)"><text x="0" y="0" font-size="23.3" text-anchor="end" fill="#262626" >2</text></g>
<g transform="translate(717.50,150.65) scale(1,1.055)"><text x="0" y="0" font-size="23.3" text-anchor="end" fill="#262626" >1</text></g>
<g transform="translate(717.50,203.50) scale(1,1.055)"><text x="0" y="0" font-size="23.3" text-anchor="end" fill="#262626" >0</text></g>
<g transform="translate(717.50,256.35) scale(1,1.055)"><text x="0" y="0" font-size="23.3" text-anchor="end" fill="#262626" >−1</text></g>
<g transform="translate(717.50,309.20) scale(1,1.055)"><text x="0" y="0" font-size="23.3" text-anchor="end" fill="#262626" >−2</text></g>
<g transform="translate(719.20,323.50) scale(1,1.055)"><text x="0" y="0" font-size="23.3" text-anchor="middle" fill="#262626" >0</text></g>
<g transform="translate(833.42,323.50) scale(1,1.055)"><text x="0" y="0" font-size="23.3" text-anchor="middle" fill="#262626" >0.5</text></g>
<g transform="translate(947.65,323.50) scale(1,1.055)"><text x="0" y="0" font-size="23.3" text-anchor="middle" fill="#262626" >1</text></g>
<g transform="translate(1061.88,323.50) scale(1,1.055)"><text x="0" y="0" font-size="23.3" text-anchor="middle" fill="#262626" >1.5</text></g>
<g transform="translate(1176.10,323.50) scale(1,1.055)"><text x="0" y="0" font-size="23.3" text-anchor="middle" fill="#262626" >2</text></g>
<g transform="translate(944.70,348.40) scale(1,1.02)"><text x="0" y="0" font-size="35.7" text-anchor="middle" fill="#262626" >Time</text></g>
<g transform="translate(764.00,127.70) scale(1,1.02)"><text x="0" y="0" font-size="24" text-anchor="start" fill="#262626" >Voltage</text></g>
<line x1="836.4" y1="119.5" x2="856" y2="129.6" stroke="#222" stroke-width="1.7"/>
<polygon points="862.8,133.4 852.8,133.6 856.8,126" fill="#222"/>
<g transform="translate(958.50,117.60) scale(1,1.02)"><text x="0" y="0" font-size="23.2" text-anchor="start" fill="#262626" >Current</text></g>
<g transform="translate(1041.50,117.60) scale(1,1.055)"><text x="0" y="0" font-size="23.2" text-anchor="start" fill="#262626" >(10</text></g>
<g transform="translate(1072.30,105.60) scale(1,1.055)"><text x="0" y="0" font-size="17.5" text-anchor="start" fill="#262626" >−4</text></g>
<g transform="translate(1091.80,117.60) scale(1,1.055)"><text x="0" y="0" font-size="23.2" text-anchor="start" fill="#262626" >)</text></g>
<line x1="958.6" y1="122.8" x2="942" y2="134" stroke="#1a1a1a" stroke-width="1.6"/>
<polygon points="935.6,138.6 940,128.5 946,136" fill="#1a1a1a"/>
<line x1="185.3" y1="394.0" x2="623.1" y2="394.0" stroke="#bdbdbd" stroke-width="1.7"/>
<line x1="623.1" y1="394.0" x2="623.1" y2="591.0" stroke="#b0b0b0" stroke-width="1.8"/>
<line x1="185.3" y1="591.0" x2="623.1" y2="591.0" stroke="#a0a0a0" stroke-width="2"/>
<line x1="185.3" y1="393.15" x2="185.3" y2="592.0" stroke="#a0a0a0" stroke-width="2"/>
<line x1="258.27" y1="591.0" x2="258.27" y2="586.5" stroke="#b0b0b0" stroke-width="1"/>
<line x1="258.27" y1="394.0" x2="258.27" y2="398.5" stroke="#b0b0b0" stroke-width="1"/>
<line x1="331.23" y1="591.0" x2="331.23" y2="586.5" stroke="#b0b0b0" stroke-width="1"/>
<line x1="331.23" y1="394.0" x2="331.23" y2="398.5" stroke="#b0b0b0" stroke-width="1"/>
<line x1="404.20" y1="591.0" x2="404.20" y2="586.5" stroke="#b0b0b0" stroke-width="1"/>
<line x1="404.20" y1="394.0" x2="404.20" y2="398.5" stroke="#b0b0b0" stroke-width="1"/>
<line x1="477.17" y1="591.0" x2="477.17" y2="586.5" stroke="#b0b0b0" stroke-width="1"/>
<line x1="477.17" y1="394.0" x2="477.17" y2="398.5" stroke="#b0b0b0" stroke-width="1"/>
<line x1="550.13" y1="591.0" x2="550.13" y2="586.5" stroke="#b0b0b0" stroke-width="1"/>
<line x1="550.13" y1="394.0" x2="550.13" y2="398.5" stroke="#b0b0b0" stroke-width="1"/>
<line x1="185.3" y1="541.75" x2="189.8" y2="541.75" stroke="#b0b0b0" stroke-width="1"/>
<line x1="623.1" y1="541.75" x2="618.6" y2="541.75" stroke="#b0b0b0" stroke-width="1"/>
<line x1="185.3" y1="492.50" x2="189.8" y2="492.50" stroke="#b0b0b0" stroke-width="1"/>
<line x1="623.1" y1="492.50" x2="618.6" y2="492.50" stroke="#b0b0b0" stroke-width="1"/>
<line x1="185.3" y1="443.25" x2="189.8" y2="443.25" stroke="#b0b0b0" stroke-width="1"/>
<line x1="623.1" y1="443.25" x2="618.6" y2="443.25" stroke="#b0b0b0" stroke-width="1"/>
<path d="M404.20,551.60 L402.48,551.59 L400.76,551.57 L399.04,551.54 L397.32,551.49 L395.61,551.43 L393.89,551.35 L392.17,551.26 L390.46,551.16 L388.74,551.04 L387.03,550.92 L385.31,550.77 L383.60,550.62 L381.89,550.45 L380.18,550.27 L378.47,550.08 L376.76,549.87 L375.06,549.65 L373.36,549.42 L371.66,549.18 L369.96,548.93 L368.26,548.67 L366.56,548.39 L364.87,548.11 L363.18,547.81 L361.49,547.51 L359.81,547.19 L358.13,546.86 L356.45,546.53 L354.77,546.18 L353.10,545.83 L351.43,545.47 L349.76,545.10 L348.10,544.72 L346.44,544.33 L344.78,543.93 L343.13,543.53 L341.48,543.12 L339.83,542.70 L338.19,542.27 L336.56,541.84 L334.92,541.40 L333.29,540.96 L331.67,540.50 L330.05,540.05 L328.43,539.58 L326.82,539.11 L325.22,538.64 L323.62,538.16 L322.02,537.67 L320.43,537.18 L318.84,536.69 L317.26,536.19 L315.69,535.68 L314.12,535.17 L312.56,534.66 L311.00,534.14 L309.44,533.62 L307.90,533.09 L306.36,532.57 L304.82,532.03 L303.29,531.50 L301.77,530.96 L300.25,530.42 L298.74,529.87 L297.24,529.32 L295.74,528.77 L294.25,528.22 L292.77,527.66 L291.29,527.11 L289.83,526.54 L288.36,525.98 L286.91,525.42 L285.46,524.85 L284.02,524.28 L282.59,523.71 L281.16,523.13 L279.74,522.56 L278.33,521.98 L276.93,521.40 L275.53,520.82 L274.15,520.24 L272.77,519.66 L271.40,519.07 L270.03,518.49 L268.68,517.90 L267.33,517.31 L266.00,516.73 L264.67,516.14 L263.35,515.54 L262.04,514.95 L260.73,514.36 L259.44,513.77 L258.15,513.17 L256.88,512.58 L255.61,511.98 L254.35,511.39 L253.10,510.79 L251.86,510.19 L250.63,509.60 L249.41,509.00 L248.20,508.40 L247.00,507.80 L245.81,507.20 L244.63,506.60 L243.46,506.01 L242.29,505.41 L241.14,504.81 L240.00,504.21 L238.87,503.61 L237.75,503.01 L236.64,502.41 L235.53,501.81 L234.44,501.21 L233.36,500.61 L232.29,500.01 L231.24,499.42 L230.19,498.82 L229.15,498.22 L228.12,497.62 L227.11,497.03 L226.10,496.43 L225.11,495.83 L224.12,495.24 L223.15,494.64 L222.19,494.05 L221.24,493.45 L220.30,492.86 L219.38,492.26 L218.46,491.67 L217.56,491.08 L216.66,490.49 L215.78,489.90 L214.91,489.31 L214.06,488.72 L213.21,488.13 L212.38,487.54 L211.55,486.95 L210.74,486.37 L209.95,485.78 L209.16,485.20 L208.38,484.62 L207.62,484.03 L206.87,483.45 L206.13,482.87 L205.41,482.29 L204.69,481.71 L203.99,481.13 L203.30,480.56 L202.63,479.98 L201.96,479.41 L201.31,478.83 L200.67,478.26 L200.05,477.69 L199.43,477.12 L198.83,476.55 L198.24,475.98 L197.67,475.42 L197.10,474.85 L196.55,474.29 L196.01,473.72 L195.49,473.16 L194.98,472.60 L194.48,472.04 L193.99,471.48 L193.52,470.93 L193.06,470.37 L192.61,469.82 L192.18,469.27 L191.76,468.72 L191.35,468.17 L190.95,467.62 L190.57,467.07 L190.20,466.53 L189.85,465.98 L189.51,465.44 L189.18,464.90 L188.86,464.36 L188.56,463.82 L188.27,463.28 L188.00,462.75 L187.73,462.22 L187.48,461.68 L187.25,461.15 L187.03,460.63 L186.82,460.10 L186.62,459.57 L186.44,459.05 L186.27,458.53 L186.12,458.01 L185.97,457.49 L185.85,456.97 L185.73,456.46 L185.63,455.94 L185.54,455.43 L185.47,454.92 L185.41,454.41 L185.36,453.91 L185.33,453.40 L185.31,452.90 L185.30,452.40 L185.31,451.90 L185.33,451.40 L185.36,450.91 L185.41,450.41 L185.47,449.92 L185.54,449.43 L185.63,448.94 L185.73,448.45 L185.85,447.97 L185.97,447.49 L186.12,447.01 L186.27,446.53 L186.44,446.05 L186.62,445.58 L186.82,445.10 L187.03,444.63 L187.25,444.16 L187.48,443.70 L187.73,443.23 L188.00,442.77 L188.27,442.31 L188.56,441.85 L188.86,441.39 L189.18,440.94 L189.51,440.48 L189.85,440.03 L190.20,439.58 L190.57,439.14 L190.95,438.69 L191.35,438.25 L191.76,437.81 L192.18,437.37 L192.61,436.93 L193.06,436.50 L193.52,436.07 L193.99,435.64 L194.48,435.21 L194.98,434.79 L195.49,434.36 L196.01,433.94 L196.55,433.52 L197.10,433.11 L197.67,432.69 L198.24,432.28 L198.83,431.87 L199.43,431.46 L200.05,431.06 L200.67,430.65 L201.31,430.25 L201.96,429.85 L202.63,429.46 L203.30,429.06 L203.99,428.67 L204.69,428.28 L205.41,427.90 L206.13,427.51 L206.87,427.13 L207.62,426.75 L208.38,426.37 L209.16,425.99 L209.95,425.62 L210.74,425.25 L211.55,424.88 L212.38,424.51 L213.21,424.15 L214.06,423.79 L214.91,423.43 L215.78,423.07 L216.66,422.72 L217.56,422.37 L218.46,422.02 L219.38,421.67 L220.30,421.33 L221.24,420.98 L222.19,420.65 L223.15,420.31 L224.12,419.97 L225.11,419.64 L226.10,419.31 L227.11,418.98 L228.12,418.66 L229.15,418.34 L230.19,418.02 L231.24,417.70 L232.29,417.38 L233.36,417.07 L234.44,416.76 L235.53,416.45 L236.64,416.15 L237.75,415.85 L238.87,415.55 L240.00,415.25 L241.14,414.96 L242.29,414.66 L243.46,414.37 L244.63,414.09 L245.81,413.80 L247.00,413.52 L248.20,413.24 L249.41,412.96 L250.63,412.69 L251.86,412.42 L253.10,412.15 L254.35,411.88 L255.61,411.62 L256.88,411.36 L258.15,411.10 L259.44,410.84 L260.73,410.59 L262.04,410.34 L263.35,410.09 L264.67,409.85 L266.00,409.60 L267.33,409.36 L268.68,409.13 L270.03,408.89 L271.40,408.66 L272.77,408.43 L274.15,408.20 L275.53,407.98 L276.93,407.76 L278.33,407.54 L279.74,407.32 L281.16,407.11 L282.59,406.90 L284.02,406.69 L285.46,406.49 L286.91,406.28 L288.36,406.09 L289.83,405.89 L291.29,405.69 L292.77,405.50 L294.25,405.31 L295.74,405.13 L297.24,404.94 L298.74,404.76 L300.25,404.58 L301.77,404.41 L303.29,404.24 L304.82,404.07 L306.36,403.90 L307.90,403.74 L309.44,403.57 L311.00,403.42 L312.56,403.26 L314.12,403.11 L315.69,402.96 L317.26,402.81 L318.84,402.66 L320.43,402.52 L322.02,402.38 L323.62,402.24 L325.22,402.11 L326.82,401.98 L328.43,401.85 L330.05,401.73 L331.67,401.60 L333.29,401.48 L334.92,401.37 L336.56,401.25 L338.19,401.14 L339.83,401.03 L341.48,400.93 L343.13,400.82 L344.78,400.72 L346.44,400.62 L348.10,400.53 L349.76,400.44 L351.43,400.35 L353.10,400.26 L354.77,400.18 L356.45,400.10 L358.13,400.02 L359.81,399.95 L361.49,399.87 L363.18,399.80 L364.87,399.74 L366.56,399.67 L368.26,399.61 L369.96,399.56 L371.66,399.50 L373.36,399.45 L375.06,399.40 L376.76,399.35 L378.47,399.31 L380.18,399.27 L381.89,399.23 L383.60,399.19 L385.31,399.16 L387.03,399.13 L388.74,399.10 L390.46,399.08 L392.17,399.06 L393.89,399.04 L395.61,399.02 L397.32,399.01 L399.04,399.00 L400.76,398.99 L402.48,398.99 L404.20,398.99 L405.92,398.99 L407.64,398.99 L409.36,399.00 L411.08,399.01 L412.79,399.02 L414.51,399.04 L416.23,399.06 L417.94,399.08 L419.66,399.10 L421.37,399.13 L423.09,399.16 L424.80,399.19 L426.51,399.23 L428.22,399.27 L429.93,399.31 L431.64,399.35 L433.34,399.40 L435.04,399.45 L436.74,399.50 L438.44,399.56 L440.14,399.61 L441.84,399.67 L443.53,399.74 L445.22,399.80 L446.91,399.87 L448.59,399.95 L450.27,400.02 L451.95,400.10 L453.63,400.18 L455.30,400.26 L456.97,400.35 L458.64,400.44 L460.30,400.53 L461.96,400.62 L463.62,400.72 L465.27,400.82 L466.92,400.93 L468.57,401.03 L470.21,401.14 L471.84,401.25 L473.48,401.37 L475.11,401.48 L476.73,401.60 L478.35,401.73 L479.97,401.85 L481.58,401.98 L483.18,402.11 L484.78,402.24 L486.38,402.38 L487.97,402.52 L489.56,402.66 L491.14,402.81 L492.71,402.96 L494.28,403.11 L495.84,403.26 L497.40,403.42 L498.96,403.57 L500.50,403.74 L502.04,403.90 L503.58,404.07 L505.11,404.24 L506.63,404.41 L508.15,404.58 L509.66,404.76 L511.16,404.94 L512.66,405.13 L514.15,405.31 L515.63,405.50 L517.11,405.69 L518.57,405.89 L520.04,406.09 L521.49,406.28 L522.94,406.49 L524.38,406.69 L525.81,406.90 L527.24,407.11 L528.66,407.32 L530.07,407.54 L531.47,407.76 L532.87,407.98 L534.25,408.20 L535.63,408.43 L537.00,408.66 L538.37,408.89 L539.72,409.13 L541.07,409.36 L542.40,409.60 L543.73,409.85 L545.05,410.09 L546.36,410.34 L547.67,410.59 L548.96,410.84 L550.25,411.10 L551.52,411.36 L552.79,411.62 L554.05,411.88 L555.30,412.15 L556.54,412.42 L557.77,412.69 L558.99,412.96 L560.20,413.24 L561.40,413.52 L562.59,413.80 L563.77,414.09 L564.94,414.37 L566.11,414.66 L567.26,414.96 L568.40,415.25 L569.53,415.55 L570.65,415.85 L571.76,416.15 L572.87,416.45 L573.96,416.76 L575.04,417.07 L576.11,417.38 L577.16,417.70 L578.21,418.02 L579.25,418.34 L580.28,418.66 L581.29,418.98 L582.30,419.31 L583.29,419.64 L584.28,419.97 L585.25,420.31 L586.21,420.65 L587.16,420.98 L588.10,421.33 L589.02,421.67 L589.94,422.02 L590.84,422.37 L591.74,422.72 L592.62,423.07 L593.49,423.43 L594.34,423.79 L595.19,424.15 L596.02,424.51 L596.85,424.88 L597.66,425.25 L598.45,425.62 L599.24,425.99 L600.02,426.37 L600.78,426.75 L601.53,427.13 L602.27,427.51 L602.99,427.90 L603.71,428.28 L604.41,428.67 L605.10,429.06 L605.77,429.46 L606.44,429.85 L607.09,430.25 L607.73,430.65 L608.35,431.06 L608.97,431.46 L609.57,431.87 L610.16,432.28 L610.73,432.69 L611.30,433.11 L611.85,433.52 L612.39,433.94 L612.91,434.36 L613.42,434.79 L613.92,435.21 L614.41,435.64 L614.88,436.07 L615.34,436.50 L615.79,436.93 L616.22,437.37 L616.64,437.81 L617.05,438.25 L617.45,438.69 L617.83,439.14 L618.20,439.58 L618.55,440.03 L618.89,440.48 L619.22,440.94 L619.54,441.39 L619.84,441.85 L620.13,442.31 L620.40,442.77 L620.67,443.23 L620.92,443.70 L621.15,444.16 L621.37,444.63 L621.58,445.10 L621.78,445.58 L621.96,446.05 L622.13,446.53 L622.28,447.01 L622.43,447.49 L622.55,447.97 L622.67,448.45 L622.77,448.94 L622.86,449.43 L622.93,449.92 L622.99,450.41 L623.04,450.91 L623.07,451.40 L623.09,451.90 L623.10,452.40 L623.09,452.90 L623.07,453.40 L623.04,453.91 L622.99,454.41 L622.93,454.92 L622.86,455.43 L622.77,455.94 L622.67,456.46 L622.55,456.97 L622.43,457.49 L622.28,458.01 L622.13,458.53 L621.96,459.05 L621.78,459.57 L621.58,460.10 L621.37,460.63 L621.15,461.15 L620.92,461.68 L620.67,462.22 L620.40,462.75 L620.13,463.28 L619.84,463.82 L619.54,464.36 L619.22,464.90 L618.89,465.44 L618.55,465.98 L618.20,466.53 L617.83,467.07 L617.45,467.62 L617.05,468.17 L616.64,468.72 L616.22,469.27 L615.79,469.82 L615.34,470.37 L614.88,470.93 L614.41,471.48 L613.92,472.04 L613.42,472.60 L612.91,473.16 L612.39,473.72 L611.85,474.29 L611.30,474.85 L610.73,475.42 L610.16,475.98 L609.57,476.55 L608.97,477.12 L608.35,477.69 L607.73,478.26 L607.09,478.83 L606.44,479.41 L605.77,479.98 L605.10,480.56 L604.41,481.13 L603.71,481.71 L602.99,482.29 L602.27,482.87 L601.53,483.45 L600.78,484.03 L600.02,484.62 L599.24,485.20 L598.45,485.78 L597.66,486.37 L596.85,486.95 L596.02,487.54 L595.19,488.13 L594.34,488.72 L593.49,489.31 L592.62,489.90 L591.74,490.49 L590.84,491.08 L589.94,491.67 L589.02,492.26 L588.10,492.86 L587.16,493.45 L586.21,494.05 L585.25,494.64 L584.28,495.24 L583.29,495.83 L582.30,496.43 L581.29,497.03 L580.28,497.62 L579.25,498.22 L578.21,498.82 L577.16,499.42 L576.11,500.01 L575.04,500.61 L573.96,501.21 L572.87,501.81 L571.76,502.41 L570.65,503.01 L569.53,503.61 L568.40,504.21 L567.26,504.81 L566.11,505.41 L564.94,506.01 L563.77,506.60 L562.59,507.20 L561.40,507.80 L560.20,508.40 L558.99,509.00 L557.77,509.60 L556.54,510.19 L555.30,510.79 L554.05,511.39 L552.79,511.98 L551.52,512.58 L550.25,513.17 L548.96,513.77 L547.67,514.36 L546.36,514.95 L545.05,515.54 L543.73,516.14 L542.40,516.73 L541.07,517.31 L539.72,517.90 L538.37,518.49 L537.00,519.07 L535.63,519.66 L534.25,520.24 L532.87,520.82 L531.47,521.40 L530.07,521.98 L528.66,522.56 L527.24,523.13 L525.81,523.71 L524.38,524.28 L522.94,524.85 L521.49,525.42 L520.04,525.98 L518.57,526.54 L517.11,527.11 L515.63,527.66 L514.15,528.22 L512.66,528.77 L511.16,529.32 L509.66,529.87 L508.15,530.42 L506.63,530.96 L505.11,531.50 L503.58,532.03 L502.04,532.57 L500.50,533.09 L498.96,533.62 L497.40,534.14 L495.84,534.66 L494.28,535.17 L492.71,535.68 L491.14,536.19 L489.56,536.69 L487.97,537.18 L486.38,537.67 L484.78,538.16 L483.18,538.64 L481.58,539.11 L479.97,539.58 L478.35,540.05 L476.73,540.50 L475.11,540.96 L473.48,541.40 L471.84,541.84 L470.21,542.27 L468.57,542.70 L466.92,543.12 L465.27,543.53 L463.62,543.93 L461.96,544.33 L460.30,544.72 L458.64,545.10 L456.97,545.47 L455.30,545.83 L453.63,546.18 L451.95,546.53 L450.27,546.86 L448.59,547.19 L446.91,547.51 L445.22,547.81 L443.53,548.11 L441.84,548.39 L440.14,548.67 L438.44,548.93 L436.74,549.18 L435.04,549.42 L433.34,549.65 L431.64,549.87 L429.93,550.08 L428.22,550.27 L426.51,550.45 L424.80,550.62 L423.09,550.77 L421.37,550.92 L419.66,551.04 L417.94,551.16 L416.23,551.26 L414.51,551.35 L412.79,551.43 L411.08,551.49 L409.36,551.54 L407.64,551.57 L405.92,551.59 L404.20,551.60" fill="none" stroke="#2c2d5a" stroke-width="3.6"/>
<g transform="translate(183.50,403.40) scale(1,1.055)"><text x="0" y="0" font-size="23.3" text-anchor="end" fill="#262626" >2</text></g>
<g transform="translate(183.50,452.65) scale(1,1.055)"><text x="0" y="0" font-size="23.3" text-anchor="end" fill="#262626" >1.5</text></g>
<g transform="translate(183.50,501.90) scale(1,1.055)"><text x="0" y="0" font-size="23.3" text-anchor="end" fill="#262626" >1</text></g>
<g transform="translate(183.50,551.15) scale(1,1.055)"><text x="0" y="0" font-size="23.3" text-anchor="end" fill="#262626" >0.5</text></g>
<g transform="translate(183.50,600.40) scale(1,1.055)"><text x="0" y="0" font-size="23.3" text-anchor="end" fill="#262626" >0</text></g>
<g transform="translate(185.30,614.50) scale(1,1.055)"><text x="0" y="0" font-size="23.3" text-anchor="middle" fill="#262626" >1.5</text></g>
<g transform="translate(170.74,614.50) scale(1,1.055)"><text x="0" y="0" font-size="23.3" text-anchor="end" fill="#262626" >−</text></g>
<g transform="translate(258.27,614.50) scale(1,1.055)"><text x="0" y="0" font-size="23.3" text-anchor="middle" fill="#262626" >1</text></g>
<g transform="translate(252.44,614.50) scale(1,1.055)"><text x="0" y="0" font-size="23.3" text-anchor="end" fill="#262626" >−</text></g>
<g transform="translate(331.23,614.50) scale(1,1.055)"><text x="0" y="0" font-size="23.3" text-anchor="middle" fill="#262626" >0.5</text></g>
<g transform="translate(316.67,614.50) scale(1,1.055)"><text x="0" y="0" font-size="23.3" text-anchor="end" fill="#262626" >−</text></g>
<g transform="translate(404.20,614.50) scale(1,1.055)"><text x="0" y="0" font-size="23.3" text-anchor="middle" fill="#262626" >0</text></g>
<g transform="translate(477.17,614.50) scale(1,1.055)"><text x="0" y="0" font-size="23.3" text-anchor="middle" fill="#262626" >0.5</text></g>
<g transform="translate(550.13,614.50) scale(1,1.055)"><text x="0" y="0" font-size="23.3" text-anchor="middle" fill="#262626" >1</text></g>
<g transform="translate(623.10,614.50) scale(1,1.055)"><text x="0" y="0" font-size="23.3" text-anchor="middle" fill="#262626" >1.5</text></g>
<g transform="translate(185.50,390.80) scale(1,1.02)"><text x="0" y="0" font-size="23.3" text-anchor="start" fill="#262626" >x 10</text></g>
<g transform="translate(225.80,375.60) scale(1,1.055)"><text x="0" y="0" font-size="15" text-anchor="start" fill="#262626" >4</text></g>
<g transform="translate(406.50,641.40) scale(1,1.02)"><text x="0" y="0" font-size="36.5" text-anchor="middle" fill="#262626" >Voltage</text></g>
<text transform="translate(143.5,571.5) rotate(-90)" font-size="36" fill="#262626">Resistance</text>
<line x1="715.4" y1="395.0" x2="1169.4" y2="395.0" stroke="#bdbdbd" stroke-width="1.7"/>
<line x1="1169.4" y1="395.0" x2="1169.4" y2="591.5" stroke="#b0b0b0" stroke-width="1.8"/>
<line x1="715.4" y1="591.5" x2="1169.4" y2="591.5" stroke="#a0a0a0" stroke-width="2"/>
<line x1="715.4" y1="394.15" x2="715.4" y2="592.5" stroke="#a0a0a0" stroke-width="2"/>
<line x1="791.07" y1="591.5" x2="791.07" y2="587.0" stroke="#b0b0b0" stroke-width="1"/>
<line x1="791.07" y1="395.0" x2="791.07" y2="399.5" stroke="#b0b0b0" stroke-width="1"/>
<line x1="866.73" y1="591.5" x2="866.73" y2="587.0" stroke="#b0b0b0" stroke-width="1"/>
<line x1="866.73" y1="395.0" x2="866.73" y2="399.5" stroke="#b0b0b0" stroke-width="1"/>
<line x1="942.40" y1="591.5" x2="942.40" y2="587.0" stroke="#b0b0b0" stroke-width="1"/>
<line x1="942.40" y1="395.0" x2="942.40" y2="399.5" stroke="#b0b0b0" stroke-width="1"/>
<line x1="1018.07" y1="591.5" x2="1018.07" y2="587.0" stroke="#b0b0b0" stroke-width="1"/>
<line x1="1018.07" y1="395.0" x2="1018.07" y2="399.5" stroke="#b0b0b0" stroke-width="1"/>
<line x1="1093.73" y1="591.5" x2="1093.73" y2="587.0" stroke="#b0b0b0" stroke-width="1"/>
<line x1="1093.73" y1="395.0" x2="1093.73" y2="399.5" stroke="#b0b0b0" stroke-width="1"/>
<line x1="715.4" y1="558.75" x2="719.9" y2="558.75" stroke="#b0b0b0" stroke-width="1"/>
<line x1="1169.4" y1="558.75" x2="1164.9" y2="558.75" stroke="#b0b0b0" stroke-width="1"/>
<line x1="715.4" y1="493.25" x2="719.9" y2="493.25" stroke="#b0b0b0" stroke-width="1"/>
<line x1="1169.4" y1="493.25" x2="1164.9" y2="493.25" stroke="#b0b0b0" stroke-width="1"/>
<line x1="715.4" y1="427.75" x2="719.9" y2="427.75" stroke="#b0b0b0" stroke-width="1"/>
<line x1="1169.4" y1="427.75" x2="1164.9" y2="427.75" stroke="#b0b0b0" stroke-width="1"/>
<path d="M942.40,493.25 L940.62,495.18 L938.83,497.11 L937.05,499.03 L935.27,500.94 L933.49,502.85 L931.71,504.75 L929.93,506.63 L928.15,508.50 L926.37,510.36 L924.59,512.19 L922.81,514.01 L921.04,515.80 L919.26,517.58 L917.49,519.32 L915.72,521.05 L913.95,522.74 L912.18,524.41 L910.42,526.05 L908.65,527.66 L906.89,529.24 L905.13,530.79 L903.37,532.30 L901.62,533.79 L899.86,535.24 L898.11,536.66 L896.37,538.05 L894.62,539.40 L892.88,540.72 L891.14,542.01 L889.41,543.27 L887.68,544.49 L885.95,545.68 L884.22,546.84 L882.50,547.97 L880.78,549.06 L879.07,550.13 L877.36,551.16 L875.65,552.16 L873.95,553.14 L872.25,554.08 L870.56,555.00 L868.87,555.89 L867.19,556.75 L865.51,557.59 L863.83,558.39 L862.16,559.18 L860.50,559.94 L858.84,560.67 L857.18,561.38 L855.53,562.06 L853.89,562.73 L852.25,563.37 L850.61,563.99 L848.99,564.58 L847.36,565.16 L845.75,565.72 L844.14,566.26 L842.53,566.78 L840.94,567.28 L839.34,567.76 L837.76,568.23 L836.18,568.67 L834.61,569.11 L833.04,569.52 L831.48,569.92 L829.93,570.31 L828.39,570.68 L826.85,571.03 L825.32,571.37 L823.79,571.70 L822.28,572.02 L820.77,572.32 L819.27,572.61 L817.77,572.88 L816.29,573.15 L814.81,573.40 L813.34,573.65 L811.87,573.88 L810.42,574.10 L808.97,574.31 L807.53,574.51 L806.10,574.70 L804.68,574.88 L803.27,575.05 L801.87,575.21 L800.47,575.37 L799.08,575.51 L797.70,575.65 L796.34,575.78 L794.98,575.90 L793.62,576.01 L792.28,576.12 L790.95,576.21 L789.63,576.30 L788.31,576.39 L787.01,576.46 L785.71,576.53 L784.43,576.59 L783.15,576.65 L781.89,576.70 L780.63,576.74 L779.39,576.78 L778.15,576.81 L776.92,576.84 L775.71,576.86 L774.50,576.88 L773.31,576.89 L772.12,576.89 L770.95,576.89 L769.79,576.88 L768.64,576.87 L767.49,576.86 L766.36,576.83 L765.24,576.81 L764.13,576.78 L763.03,576.74 L761.95,576.71 L760.87,576.66 L759.81,576.62 L758.75,576.56 L757.71,576.51 L756.68,576.45 L755.66,576.38 L754.65,576.32 L753.66,576.24 L752.67,576.17 L751.70,576.09 L750.74,576.01 L749.79,575.92 L748.85,575.83 L747.93,575.74 L747.01,575.64 L746.11,575.54 L745.22,575.44 L744.34,575.33 L743.48,575.22 L742.63,575.11 L741.79,574.99 L740.96,574.87 L740.14,574.75 L739.34,574.63 L738.55,574.50 L737.77,574.37 L737.00,574.23 L736.25,574.10 L735.51,573.96 L734.78,573.81 L734.07,573.67 L733.37,573.52 L732.68,573.37 L732.00,573.22 L731.34,573.06 L730.69,572.90 L730.05,572.74 L729.43,572.58 L728.82,572.42 L728.22,572.25 L727.64,572.08 L727.07,571.91 L726.51,571.73 L725.97,571.55 L725.43,571.37 L724.92,571.19 L724.41,571.01 L723.92,570.82 L723.45,570.63 L722.98,570.44 L722.53,570.25 L722.10,570.06 L721.67,569.86 L721.26,569.66 L720.87,569.46 L720.48,569.26 L720.12,569.05 L719.76,568.84 L719.42,568.64 L719.09,568.42 L718.78,568.21 L718.48,568.00 L718.19,567.78 L717.92,567.56 L717.66,567.34 L717.42,567.12 L717.19,566.89 L716.97,566.67 L716.77,566.44 L716.58,566.21 L716.41,565.98 L716.25,565.75 L716.10,565.51 L715.97,565.28 L715.85,565.04 L715.74,564.80 L715.65,564.56 L715.58,564.31 L715.51,564.07 L715.46,563.82 L715.43,563.57 L715.41,563.32 L715.40,563.07 L715.41,562.82 L715.43,562.57 L715.46,562.31 L715.51,562.05 L715.58,561.79 L715.65,561.53 L715.74,561.27 L715.85,561.01 L715.97,560.74 L716.10,560.48 L716.25,560.21 L716.41,559.94 L716.58,559.67 L716.77,559.40 L716.97,559.12 L717.19,558.85 L717.42,558.57 L717.66,558.29 L717.92,558.01 L718.19,557.73 L718.48,557.45 L718.78,557.17 L719.09,556.88 L719.42,556.60 L719.76,556.31 L720.12,556.02 L720.48,555.73 L720.87,555.44 L721.26,555.15 L721.67,554.86 L722.10,554.56 L722.53,554.26 L722.98,553.97 L723.45,553.67 L723.92,553.37 L724.41,553.07 L724.92,552.77 L725.43,552.46 L725.97,552.16 L726.51,551.85 L727.07,551.55 L727.64,551.24 L728.22,550.93 L728.82,550.62 L729.43,550.31 L730.05,549.99 L730.69,549.68 L731.34,549.37 L732.00,549.05 L732.68,548.73 L733.37,548.42 L734.07,548.10 L734.78,547.78 L735.51,547.46 L736.25,547.13 L737.00,546.81 L737.77,546.49 L738.55,546.16 L739.34,545.83 L740.14,545.51 L740.96,545.18 L741.79,544.85 L742.63,544.52 L743.48,544.19 L744.34,543.86 L745.22,543.52 L746.11,543.19 L747.01,542.85 L747.93,542.52 L748.85,542.18 L749.79,541.84 L750.74,541.51 L751.70,541.17 L752.67,540.83 L753.66,540.48 L754.65,540.14 L755.66,539.80 L756.68,539.46 L757.71,539.11 L758.75,538.77 L759.81,538.42 L760.87,538.07 L761.95,537.72 L763.03,537.37 L764.13,537.02 L765.24,536.67 L766.36,536.32 L767.49,535.97 L768.64,535.62 L769.79,535.26 L770.95,534.91 L772.12,534.55 L773.31,534.20 L774.50,533.84 L775.71,533.48 L776.92,533.13 L778.15,532.77 L779.39,532.41 L780.63,532.05 L781.89,531.69 L783.15,531.33 L784.43,530.96 L785.71,530.60 L787.01,530.24 L788.31,529.87 L789.63,529.51 L790.95,529.14 L792.28,528.77 L793.62,528.41 L794.98,528.04 L796.34,527.67 L797.70,527.30 L799.08,526.93 L800.47,526.56 L801.87,526.19 L803.27,525.82 L804.68,525.45 L806.10,525.08 L807.53,524.70 L808.97,524.33 L810.42,523.96 L811.87,523.58 L813.34,523.21 L814.81,522.83 L816.29,522.45 L817.77,522.08 L819.27,521.70 L820.77,521.32 L822.28,520.94 L823.79,520.57 L825.32,520.19 L826.85,519.81 L828.39,519.43 L829.93,519.05 L831.48,518.67 L833.04,518.28 L834.61,517.90 L836.18,517.52 L837.76,517.14 L839.34,516.75 L840.94,516.37 L842.53,515.99 L844.14,515.60 L845.75,515.22 L847.36,514.83 L848.99,514.45 L850.61,514.06 L852.25,513.67 L853.89,513.29 L855.53,512.90 L857.18,512.51 L858.84,512.12 L860.50,511.74 L862.16,511.35 L863.83,510.96 L865.51,510.57 L867.19,510.18 L868.87,509.79 L870.56,509.40 L872.25,509.01 L873.95,508.62 L875.65,508.23 L877.36,507.84 L879.07,507.45 L880.78,507.06 L882.50,506.66 L884.22,506.27 L885.95,505.88 L887.68,505.49 L889.41,505.09 L891.14,504.70 L892.88,504.31 L894.62,503.92 L896.37,503.52 L898.11,503.13 L899.86,502.73 L901.62,502.34 L903.37,501.95 L905.13,501.55 L906.89,501.16 L908.65,500.76 L910.42,500.37 L912.18,499.97 L913.95,499.58 L915.72,499.18 L917.49,498.79 L919.26,498.39 L921.04,498.00 L922.81,497.60 L924.59,497.21 L926.37,496.81 L928.15,496.42 L929.93,496.02 L931.71,495.62 L933.49,495.23 L935.27,494.83 L937.05,494.44 L938.83,494.04 L940.62,493.65 L942.40,493.25 L944.18,492.85 L945.97,492.46 L947.75,492.06 L949.53,491.67 L951.31,491.27 L953.09,490.88 L954.87,490.48 L956.65,490.08 L958.43,489.69 L960.21,489.29 L961.99,488.90 L963.76,488.50 L965.54,488.11 L967.31,487.71 L969.08,487.32 L970.85,486.92 L972.62,486.53 L974.38,486.13 L976.15,485.74 L977.91,485.34 L979.67,484.95 L981.43,484.55 L983.18,484.16 L984.94,483.77 L986.69,483.37 L988.43,482.98 L990.18,482.58 L991.92,482.19 L993.66,481.80 L995.39,481.41 L997.12,481.01 L998.85,480.62 L1000.58,480.23 L1002.30,479.84 L1004.02,479.44 L1005.73,479.05 L1007.44,478.66 L1009.15,478.27 L1010.85,477.88 L1012.55,477.49 L1014.24,477.10 L1015.93,476.71 L1017.61,476.32 L1019.29,475.93 L1020.97,475.54 L1022.64,475.15 L1024.30,474.76 L1025.96,474.38 L1027.62,473.99 L1029.27,473.60 L1030.91,473.21 L1032.55,472.83 L1034.19,472.44 L1035.81,472.05 L1037.44,471.67 L1039.05,471.28 L1040.66,470.90 L1042.27,470.51 L1043.86,470.13 L1045.46,469.75 L1047.04,469.36 L1048.62,468.98 L1050.19,468.60 L1051.76,468.22 L1053.32,467.83 L1054.87,467.45 L1056.41,467.07 L1057.95,466.69 L1059.48,466.31 L1061.01,465.93 L1062.52,465.56 L1064.03,465.18 L1065.53,464.80 L1067.03,464.42 L1068.51,464.05 L1069.99,463.67 L1071.46,463.29 L1072.93,462.92 L1074.38,462.54 L1075.83,462.17 L1077.27,461.80 L1078.70,461.42 L1080.12,461.05 L1081.53,460.68 L1082.93,460.31 L1084.33,459.94 L1085.72,459.57 L1087.10,459.20 L1088.46,458.83 L1089.82,458.46 L1091.18,458.09 L1092.52,457.73 L1093.85,457.36 L1095.17,456.99 L1096.49,456.63 L1097.79,456.26 L1099.09,455.90 L1100.37,455.54 L1101.65,455.17 L1102.91,454.81 L1104.17,454.45 L1105.41,454.09 L1106.65,453.73 L1107.88,453.37 L1109.09,453.02 L1110.30,452.66 L1111.49,452.30 L1112.68,451.95 L1113.85,451.59 L1115.01,451.24 L1116.16,450.88 L1117.31,450.53 L1118.44,450.18 L1119.56,449.83 L1120.67,449.48 L1121.77,449.13 L1122.85,448.78 L1123.93,448.43 L1124.99,448.08 L1126.05,447.73 L1127.09,447.39 L1128.12,447.04 L1129.14,446.70 L1130.15,446.36 L1131.14,446.02 L1132.13,445.67 L1133.10,445.33 L1134.06,444.99 L1135.01,444.66 L1135.95,444.32 L1136.87,443.98 L1137.79,443.65 L1138.69,443.31 L1139.58,442.98 L1140.46,442.64 L1141.32,442.31 L1142.17,441.98 L1143.01,441.65 L1143.84,441.32 L1144.66,440.99 L1145.46,440.67 L1146.25,440.34 L1147.03,440.01 L1147.80,439.69 L1148.55,439.37 L1149.29,439.04 L1150.02,438.72 L1150.73,438.40 L1151.43,438.08 L1152.12,437.77 L1152.80,437.45 L1153.46,437.13 L1154.11,436.82 L1154.75,436.51 L1155.37,436.19 L1155.98,435.88 L1156.58,435.57 L1157.16,435.26 L1157.73,434.95 L1158.29,434.65 L1158.83,434.34 L1159.37,434.04 L1159.88,433.73 L1160.39,433.43 L1160.88,433.13 L1161.35,432.83 L1161.82,432.53 L1162.27,432.24 L1162.70,431.94 L1163.13,431.64 L1163.54,431.35 L1163.93,431.06 L1164.32,430.77 L1164.68,430.48 L1165.04,430.19 L1165.38,429.90 L1165.71,429.62 L1166.02,429.33 L1166.32,429.05 L1166.61,428.77 L1166.88,428.49 L1167.14,428.21 L1167.38,427.93 L1167.61,427.65 L1167.83,427.38 L1168.03,427.10 L1168.22,426.83 L1168.39,426.56 L1168.55,426.29 L1168.70,426.02 L1168.83,425.76 L1168.95,425.49 L1169.06,425.23 L1169.15,424.97 L1169.22,424.71 L1169.29,424.45 L1169.34,424.19 L1169.37,423.93 L1169.39,423.68 L1169.40,423.43 L1169.39,423.18 L1169.37,422.93 L1169.34,422.68 L1169.29,422.43 L1169.22,422.19 L1169.15,421.94 L1169.06,421.70 L1168.95,421.46 L1168.83,421.22 L1168.70,420.99 L1168.55,420.75 L1168.39,420.52 L1168.22,420.29 L1168.03,420.06 L1167.83,419.83 L1167.61,419.61 L1167.38,419.38 L1167.14,419.16 L1166.88,418.94 L1166.61,418.72 L1166.32,418.50 L1166.02,418.29 L1165.71,418.08 L1165.38,417.86 L1165.04,417.66 L1164.68,417.45 L1164.32,417.24 L1163.93,417.04 L1163.54,416.84 L1163.13,416.64 L1162.70,416.44 L1162.27,416.25 L1161.82,416.06 L1161.35,415.87 L1160.88,415.68 L1160.39,415.49 L1159.88,415.31 L1159.37,415.13 L1158.83,414.95 L1158.29,414.77 L1157.73,414.59 L1157.16,414.42 L1156.58,414.25 L1155.98,414.08 L1155.37,413.92 L1154.75,413.76 L1154.11,413.60 L1153.46,413.44 L1152.80,413.28 L1152.12,413.13 L1151.43,412.98 L1150.73,412.83 L1150.02,412.69 L1149.29,412.54 L1148.55,412.40 L1147.80,412.27 L1147.03,412.13 L1146.25,412.00 L1145.46,411.87 L1144.66,411.75 L1143.84,411.63 L1143.01,411.51 L1142.17,411.39 L1141.32,411.28 L1140.46,411.17 L1139.58,411.06 L1138.69,410.96 L1137.79,410.86 L1136.87,410.76 L1135.95,410.67 L1135.01,410.58 L1134.06,410.49 L1133.10,410.41 L1132.13,410.33 L1131.14,410.26 L1130.15,410.18 L1129.14,410.12 L1128.12,410.05 L1127.09,409.99 L1126.05,409.94 L1124.99,409.88 L1123.93,409.84 L1122.85,409.79 L1121.77,409.76 L1120.67,409.72 L1119.56,409.69 L1118.44,409.67 L1117.31,409.64 L1116.16,409.63 L1115.01,409.62 L1113.85,409.61 L1112.68,409.61 L1111.49,409.61 L1110.30,409.62 L1109.09,409.64 L1107.88,409.66 L1106.65,409.69 L1105.41,409.72 L1104.17,409.76 L1102.91,409.80 L1101.65,409.85 L1100.37,409.91 L1099.09,409.97 L1097.79,410.04 L1096.49,410.11 L1095.17,410.20 L1093.85,410.29 L1092.52,410.38 L1091.18,410.49 L1089.82,410.60 L1088.46,410.72 L1087.10,410.85 L1085.72,410.99 L1084.33,411.13 L1082.93,411.29 L1081.53,411.45 L1080.12,411.62 L1078.70,411.80 L1077.27,411.99 L1075.83,412.19 L1074.38,412.40 L1072.93,412.62 L1071.46,412.85 L1069.99,413.10 L1068.51,413.35 L1067.03,413.62 L1065.53,413.89 L1064.03,414.18 L1062.52,414.48 L1061.01,414.80 L1059.48,415.13 L1057.95,415.47 L1056.41,415.82 L1054.87,416.19 L1053.32,416.58 L1051.76,416.98 L1050.19,417.39 L1048.62,417.83 L1047.04,418.27 L1045.46,418.74 L1043.86,419.22 L1042.27,419.72 L1040.66,420.24 L1039.05,420.78 L1037.44,421.34 L1035.81,421.92 L1034.19,422.51 L1032.55,423.13 L1030.91,423.77 L1029.27,424.44 L1027.62,425.12 L1025.96,425.83 L1024.30,426.56 L1022.64,427.32 L1020.97,428.11 L1019.29,428.91 L1017.61,429.75 L1015.93,430.61 L1014.24,431.50 L1012.55,432.42 L1010.85,433.36 L1009.15,434.34 L1007.44,435.34 L1005.73,436.37 L1004.02,437.44 L1002.30,438.53 L1000.58,439.66 L998.85,440.82 L997.12,442.01 L995.39,443.23 L993.66,444.49 L991.92,445.78 L990.18,447.10 L988.43,448.45 L986.69,449.84 L984.94,451.26 L983.18,452.71 L981.43,454.20 L979.67,455.71 L977.91,457.26 L976.15,458.84 L974.38,460.45 L972.62,462.09 L970.85,463.76 L969.08,465.45 L967.31,467.18 L965.54,468.92 L963.76,470.70 L961.99,472.49 L960.21,474.31 L958.43,476.14 L956.65,478.00 L954.87,479.87 L953.09,481.75 L951.31,483.65 L949.53,485.56 L947.75,487.47 L945.97,489.39 L944.18,491.32 L942.40,493.25" fill="none" stroke="#cf4240" stroke-width="3.6"/>
<g transform="translate(712.50,436.65) scale(1,1.055)"><text x="0" y="0" font-size="23.3" text-anchor="end" fill="#262626" >1</text></g>
<g transform="translate(712.50,502.15) scale(1,1.055)"><text x="0" y="0" font-size="23.3" text-anchor="end" fill="#262626" >0</text></g>
<g transform="translate(712.50,567.65) scale(1,1.055)"><text x="0" y="0" font-size="23.3" text-anchor="end" fill="#262626" >−1</text></g>
<g transform="translate(715.40,615.00) scale(1,1.055)"><text x="0" y="0" font-size="23.3" text-anchor="middle" fill="#262626" >1.5</text></g>
<g transform="translate(700.84,615.00) scale(1,1.055)"><text x="0" y="0" font-size="23.3" text-anchor="end" fill="#262626" >−</text></g>
<g transform="translate(791.07,615.00) scale(1,1.055)"><text x="0" y="0" font-size="23.3" text-anchor="middle" fill="#262626" >1</text></g>
<g transform="translate(785.24,615.00) scale(1,1.055)"><text x="0" y="0" font-size="23.3" text-anchor="end" fill="#262626" >−</text></g>
<g transform="translate(866.73,615.00) scale(1,1.055)"><text x="0" y="0" font-size="23.3" text-anchor="middle" fill="#262626" >0.5</text></g>
<g transform="translate(852.17,615.00) scale(1,1.055)"><text x="0" y="0" font-size="23.3" text-anchor="end" fill="#262626" >−</text></g>
<g transform="translate(942.40,615.00) scale(1,1.055)"><text x="0" y="0" font-size="23.3" text-anchor="middle" fill="#262626" >0</text></g>
<g transform="translate(1018.07,615.00) scale(1,1.055)"><text x="0" y="0" font-size="23.3" text-anchor="middle" fill="#262626" >0.5</text></g>
<g transform="translate(1093.73,615.00) scale(1,1.055)"><text x="0" y="0" font-size="23.3" text-anchor="middle" fill="#262626" >1</text></g>
<g transform="translate(1169.40,615.00) scale(1,1.055)"><text x="0" y="0" font-size="23.3" text-anchor="middle" fill="#262626" >1.5</text></g>
<g transform="translate(715.50,391.20) scale(1,1.02)"><text x="0" y="0" font-size="23.3" text-anchor="start" fill="#262626" >x 10</text></g>
<g transform="translate(756.00,377.60) scale(1,1.055)"><text x="0" y="0" font-size="15" text-anchor="start" fill="#262626" >−4</text></g>
<g transform="translate(944.60,642.50) scale(1,1.02)"><text x="0" y="0" font-size="36.5" text-anchor="middle" fill="#262626" >Voltage</text></g>
<text transform="translate(677.3,547) rotate(-90)" font-size="35.4" fill="#262626">Current</text>
</g></g></svg></body></html>
